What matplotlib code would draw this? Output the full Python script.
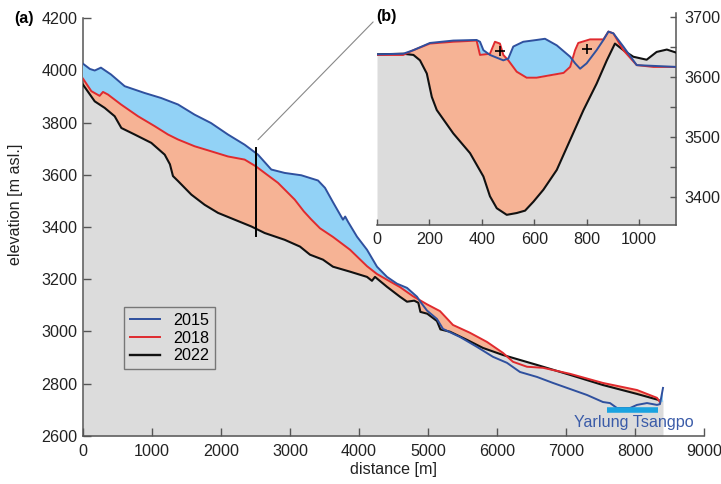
import numpy as np
import matplotlib
matplotlib.use("Agg")
import matplotlib.pyplot as plt
from matplotlib.patches import ConnectionPatch

plt.rcParams['font.family'] = ['Liberation Sans', 'DejaVu Sans']

# ---------------- main profile data ----------------
d2015 = [0, 100, 170, 260, 405, 604, 893, 1130, 1377, 1618, 1855, 2101, 2343, 2536, 2729, 2923,
         3164, 3406, 3507, 3623, 3768, 3800, 3841, 3971, 4116, 4261, 4406, 4551, 4696, 4841, 4900,
         4986, 5130, 5217, 5464, 5710, 5942, 6145, 6333, 6580, 6812, 7058, 7304, 7536, 7638, 7739,
         7928, 8029, 8174, 8319, 8362, 8406]
e2015 = [4025, 4005, 3999, 4010, 3984, 3939, 3913, 3894, 3869, 3830, 3798, 3754, 3715, 3677, 3620, 3607,
         3598, 3578, 3550, 3495, 3428, 3440, 3420, 3363, 3313, 3248, 3209, 3183, 3167, 3133, 3110,
         3080, 3048, 3010, 2979, 2941, 2903, 2880, 2845, 2826, 2803, 2780, 2757, 2730, 2726, 2707,
         2707, 2719, 2726, 2719, 2722, 2784]

d2018 = [0, 121, 241, 290, 362, 551, 797, 1039, 1232, 1377, 1618, 1855, 2101, 2343, 2507, 2633,
         2826, 3068, 3200, 3304, 3435, 3623, 3870, 4116, 4261, 4406, 4594, 4783, 4986, 5174, 5362,
         5609, 5855, 6087, 6232, 6435, 6667, 7058, 7536, 8029, 8319, 8360]
e2018 = [3968, 3920, 3902, 3917, 3907, 3869, 3824, 3786, 3754, 3735, 3709, 3690, 3670, 3658, 3632, 3607,
         3569, 3505, 3460, 3430, 3395, 3362, 3313, 3250, 3220, 3198, 3170, 3135, 3104, 3078, 3025,
         2995, 2960, 2918, 2884, 2865, 2861, 2838, 2803, 2776, 2746, 2730]

d2022 = [0, 170, 314, 459, 556, 749, 990, 1184, 1260, 1304, 1377, 1570, 1763, 1957, 2198, 2440,
         2633, 2923, 3145, 3290, 3478, 3623, 3870, 4116, 4188, 4232, 4406, 4594, 4696, 4800, 4860,
         4890, 4990, 5130, 5180, 5320, 5565, 5797, 6087, 6580, 7058, 7536, 8029, 8340]
e2022 = [3945, 3881, 3856, 3824, 3779, 3754, 3722, 3677, 3640, 3595, 3576, 3524, 3485, 3454, 3428, 3402,
         3377, 3351, 3325, 3294, 3275, 3248, 3229, 3209, 3194, 3209, 3171, 3133, 3114, 3118, 3110,
         3075, 3068, 3040, 3008, 2999, 2968, 2937, 2910, 2872, 2834, 2795, 2761, 2738]

# ---------------- cross-section (inset) data ----------------
x22b = [0, 100, 139, 164, 190, 209, 228, 291, 355, 406, 431, 457, 495, 533, 565, 597, 635, 686,
        737, 788, 838, 877, 908, 940, 978, 1029, 1067, 1106, 1141]
y22b = [3638, 3639, 3637, 3628, 3606, 3567, 3545, 3506, 3473, 3434, 3401, 3381, 3370, 3373, 3377,
        3392, 3412, 3445, 3495, 3545, 3589, 3628, 3656, 3645, 3634, 3629, 3642, 3646, 3641]

x18b = [0, 100, 139, 202, 291, 380, 393, 431, 450, 469, 482, 501, 533, 571, 609, 660, 712, 737,
        756, 768, 813, 864, 883, 902, 940, 991, 1055, 1141]
y18b = [3637, 3637, 3645, 3656, 3659, 3661, 3637, 3639, 3659, 3656, 3637, 3628, 3609, 3599, 3599,
        3603, 3607, 3617, 3645, 3657, 3663, 3663, 3676, 3673, 3645, 3620, 3617, 3617]

x15b = [0, 100, 139, 202, 291, 380, 393, 406, 431, 482, 501, 520, 558, 609, 641, 686, 737, 756,
        775, 800, 838, 864, 883, 902, 940, 991, 1141]
y15b = [3638, 3639, 3645, 3657, 3661, 3662, 3659, 3645, 3637, 3628, 3631, 3651, 3659, 3662, 3664,
        3653, 3634, 3623, 3614, 3623, 3645, 3662, 3676, 3673, 3651, 3620, 3617]

plus_x = [469, 800]
plus_y = [3643, 3647]

years = ['2015', '2018', '2022']
section_at = 2510
section_range = [3367, 3704]
river_span = [7594, 8333]
river_elev = 2700

C_BLUE = '#2f509e'
C_RED = '#e02a2e'
C_BLACK = '#111111'
F_BLUE = '#92d2f6'
F_ORANGE = '#f6b395'
F_GRAY = '#dcdcdc'
FS = 11.6


def fills(ax, xs, ys, xmax):
    grid = np.linspace(0, xmax, 3000)
    y15 = np.interp(grid, xs[0], ys[0])
    y18 = np.interp(grid, xs[1], ys[1])
    y22 = np.interp(grid, xs[2], ys[2])
    lo = ax.get_ylim()[0]
    ax.fill_between(grid, lo, y22, color=F_GRAY, lw=0, zorder=1)
    ax.fill_between(grid, y22, y18, where=y18 > y22, interpolate=True, color=F_ORANGE, lw=0, zorder=2)
    ax.fill_between(grid, y18, y15, where=y15 > y18, interpolate=True, color=F_BLUE, lw=0, zorder=3)


fig = plt.figure(figsize=(7.21, 4.84), dpi=100)
ax = fig.add_axes([0.1151, 0.0992, 0.8613, 0.8636])
ax.set_xlim(0, 9000)
ax.set_ylim(2600, 4200)

fills(ax, [d2015, d2018, d2022], [e2015, e2018, e2022], 8406)
ax.plot(d2022, e2022, color=C_BLACK, lw=1.5, zorder=4)
ax.plot(d2018, e2018, color=C_RED, lw=1.4, zorder=5)
ax.plot(d2015, e2015, color=C_BLUE, lw=1.4, zorder=6)
h15, = ax.plot([], [], color=C_BLUE, lw=1.4)
h18, = ax.plot([], [], color=C_RED, lw=1.4)
h22, = ax.plot([], [], color=C_BLACK, lw=1.7)

ax.plot([section_at, section_at], section_range, color='black', lw=1.4, zorder=7)
ax.plot(river_span, [river_elev, river_elev], color='#1aa3e0', lw=4, solid_capstyle='butt', zorder=6)
ax.text(7986, 2652, 'Yarlung Tsangpo', color='#3a5ba8', fontsize=FS, ha='center', va='center', zorder=8)

ax.set_xticks(range(0, 9001, 1000))
ax.set_yticks(range(2600, 4201, 200))
for s in ['top', 'right']:
    ax.spines[s].set_visible(False)
for s in ['left', 'bottom']:
    ax.spines[s].set_color('#555555')
    ax.spines[s].set_linewidth(1.1)
ax.tick_params(direction='in', length=6, width=1.0, color='#555555', labelsize=FS,
               labelcolor='#222222')
ax.tick_params(axis='x', pad=6)
ax.tick_params(axis='y', pad=4)
ax.set_xlabel('distance [m]', fontsize=FS, color='#222222', labelpad=2)
ax.set_ylabel('elevation [m asl.]', fontsize=FS, color='#222222')
ax.yaxis.set_label_coords(-0.097, 0.555)

leg = ax.legend([h15, h18, h22], years, loc='lower left', bbox_to_anchor=(0.066, 0.16),
                fontsize=FS, frameon=True, fancybox=False, edgecolor='#777777',
                facecolor=F_GRAY, framealpha=1, handlelength=1.9, labelspacing=0.18,
                borderpad=0.35, handletextpad=0.8, borderaxespad=0)
leg.get_frame().set_linewidth(1.0)
leg.set_zorder(9)

fig.text(24 / 721, 1 - 18 / 484, '(a)', fontsize=FS, fontweight='bold', ha='center', va='center')

# ---------------- inset ----------------
axi = fig.add_axes([0.5229, 0.5351, 0.4147, 0.438])
axi.set_xlim(0, 1141)
axi.set_ylim(3353, 3707)
axi.patch.set_alpha(0)
fills(axi, [x15b, x18b, x22b], [y15b, y18b, y22b], 1141)
axi.plot(x22b, y22b, color=C_BLACK, lw=1.5, zorder=4)
axi.plot(x18b, y18b, color=C_RED, lw=1.4, zorder=5)
axi.plot(x15b, y15b, color=C_BLUE, lw=1.4, zorder=6)
axi.plot(plus_x, plus_y, '+', color='black', ms=7, mew=1.2, zorder=7)
axi.set_xticks(range(0, 1001, 200))
axi.set_yticks(range(3400, 3701, 100))
axi.set_yticks(range(3450, 3701, 100), minor=True)
axi.yaxis.tick_right()
for s in ['top', 'left']:
    axi.spines[s].set_visible(False)
for s in ['right', 'bottom']:
    axi.spines[s].set_color('#555555')
    axi.spines[s].set_linewidth(1.1)
axi.tick_params(which='both', direction='in', length=4, width=1.0, color='#555555',
                labelsize=FS, labelcolor='#222222')
axi.tick_params(axis='x', pad=5)
axi.tick_params(axis='y', pad=6)
axi.set_zorder(10)

fig.text(386 / 721, 1 - 17 / 484, '(b)', fontsize=FS, fontweight='bold', ha='center', va='center',
         zorder=30)

con = ConnectionPatch(xyA=(2536, 3734), coordsA=ax.transData,
                      xyB=(-0.013, 0.958), coordsB=axi.transAxes,
                      color='#888888', lw=0.8)
fig.add_artist(con)

fig.savefig('out.png', dpi=100)
